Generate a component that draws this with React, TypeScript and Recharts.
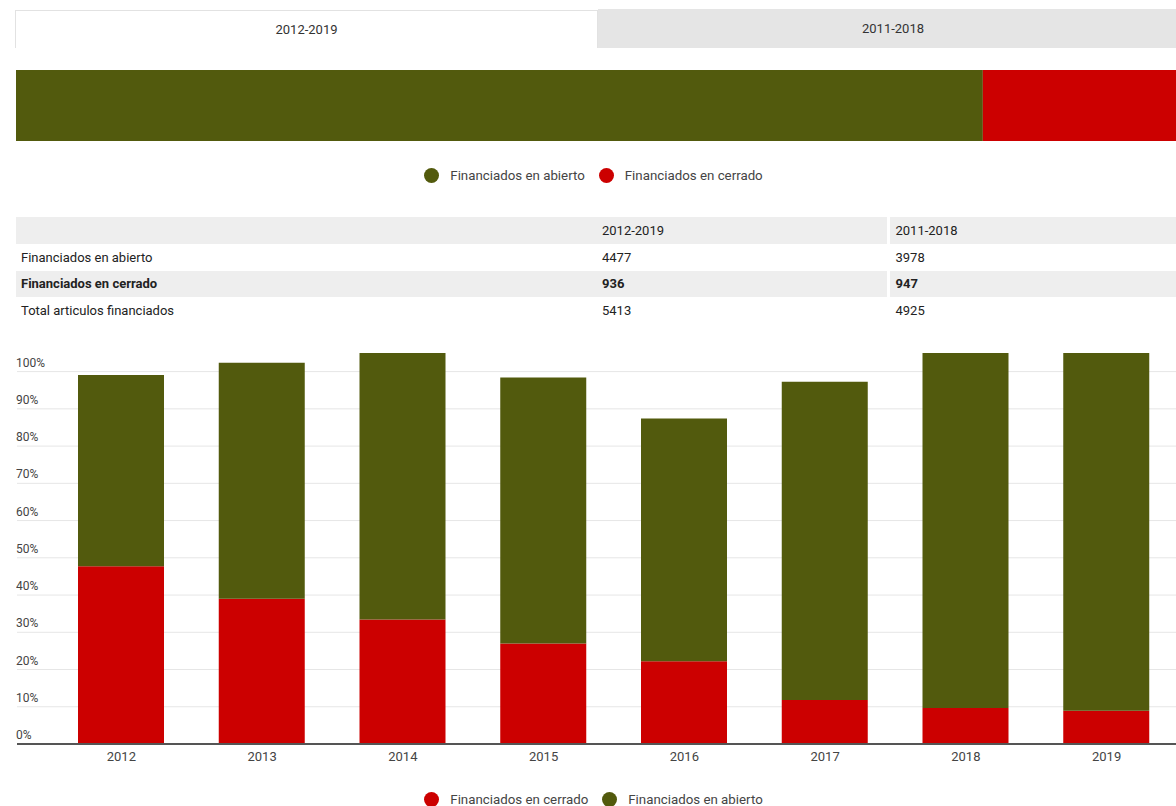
import React from "react";
import { BarChart, Bar, XAxis, YAxis, CartesianGrid } from "recharts";

const GREEN = "#525a0d";
const RED = "#cc0000";

// totales por periodo
const periods = ["2012-2019", "2011-2018"];
const abiertoTotals = [4477, 3978];
const cerradoTotals = [936, 947];
const totalFinanciados = [5413, 4925];
const rowLabels = ["Financiados en abierto", "Financiados en cerrado", "Total articulos financiados"];

// porcentajes anuales
const years = ["2012", "2013", "2014", "2015", "2016", "2017", "2018", "2019"];
const cerradoPct = [47.7, 39.0, 33.4, 27.0, 22.2, 11.8, 9.7, 8.9];
const abiertoPct = [51.4, 63.4, 73, 71.4, 65.2, 85.5, 97, 98];
const yTicks = [0, 10, 20, 30, 40, 50, 60, 70, 80, 90, 100];

const topData = [{ name: periods[0], abierto: abiertoTotals[0], cerrado: cerradoTotals[0] }];
const yearData = years.map((y, i) => ({ year: y, cerrado: cerradoPct[i], abierto: abiertoPct[i] }));
const tableRows = [abiertoTotals, cerradoTotals, totalFinanciados];

function Legend({ items, top }: { items: { label: string; color: string }[]; top: number }) {
    return (
        <div
            style={{
                position: "absolute",
                left: 16,
                top,
                width: 1169,
                height: 16,
                display: "flex",
                justifyContent: "center",
                alignItems: "center",
                fontSize: 13.3,
                color: "#444",
            }}
        >
            {items.map((it) => (
                <div key={it.label} style={{ display: "flex", alignItems: "center", marginRight: 14 }}>
                    <span
                        style={{
                            width: 15,
                            height: 15,
                            borderRadius: "50%",
                            background: it.color,
                            display: "inline-block",
                            marginRight: 11,
                        }}
                    />
                    {it.label}
                </div>
            ))}
        </div>
    );
}

const YTick = (props: any) => {
    const { y, payload } = props;
    return (
        <text x={0} y={y - 5} fill="#444" fontSize={12} textAnchor="start">
            {payload.value}%
        </text>
    );
};

export default function App() {
    const cell = (col: number, row: number) => ({
        borderLeft: col === 2 ? "3px solid #fff" : "none",
        fontWeight: row === 1 ? 700 : 400,
        height: 26.5,
        padding: 0,
        paddingLeft: col === 0 ? 5 : 6,
    });

    return (
        <div
            style={{
                position: "absolute",
                left: 0,
                top: 0,
                width: 1176,
                height: 806,
                overflow: "hidden",
                background: "#fff",
                fontFamily: "Roboto, sans-serif",
            }}
        >
            {/* pestañas */}
            <div
                style={{
                    position: "absolute",
                    left: 15,
                    top: 10,
                    width: 583,
                    height: 38,
                    boxSizing: "border-box",
                    background: "#fff",
                    border: "1px solid #e2e2e2",
                    borderBottom: "none",
                    display: "flex",
                    alignItems: "center",
                    justifyContent: "center",
                    fontSize: 13,
                    color: "#333",
                }}
            >
                {periods[0]}
            </div>
            <div
                style={{
                    position: "absolute",
                    left: 598,
                    top: 9,
                    width: 590,
                    height: 39,
                    background: "#e5e5e5",
                    display: "flex",
                    alignItems: "center",
                    justifyContent: "center",
                    fontSize: 13,
                    color: "#333",
                }}
            >
                {periods[1]}
            </div>

            {/* barra total */}
            <div style={{ position: "absolute", left: 16, top: 70 }}>
                <BarChart
                    width={1169}
                    height={71}
                    data={topData}
                    layout="vertical"
                    margin={{ top: 0, right: 0, bottom: 0, left: 0 }}
                    barCategoryGap={0}
                >
                    <XAxis type="number" hide domain={[0, totalFinanciados[0]]} />
                    <YAxis type="category" dataKey="name" hide />
                    <Bar dataKey="abierto" stackId="t" fill={GREEN} isAnimationActive={false} />
                    <Bar dataKey="cerrado" stackId="t" fill={RED} isAnimationActive={false} />
                </BarChart>
            </div>

            <Legend
                top={167}
                items={[
                    { label: rowLabels[0], color: GREEN },
                    { label: rowLabels[1], color: RED },
                ]}
            />

            {/* tabla */}
            <table
                style={{
                    position: "absolute",
                    left: 16,
                    top: 217,
                    width: 1169,
                    borderCollapse: "collapse",
                    fontSize: 13,
                    color: "#222",
                    tableLayout: "fixed",
                }}
            >
                <colgroup>
                    <col style={{ width: 580 }} />
                    <col style={{ width: 292 }} />
                    <col style={{ width: 297 }} />
                </colgroup>
                <tbody>
                    <tr style={{ background: "#eeeeee", height: 27 }}>
                        <td style={cell(0, -1)}></td>
                        <td style={cell(1, -1)}>{periods[0]}</td>
                        <td style={cell(2, -1)}>{periods[1]}</td>
                    </tr>
                    {tableRows.map((vals, r) => (
                        <tr key={r} style={{ background: r === 1 ? "#eeeeee" : "#fff", height: 26.5 }}>
                            <td style={cell(0, r)}>{rowLabels[r]}</td>
                            <td style={cell(1, r)}>{vals[0]}</td>
                            <td style={cell(2, r)}>{vals[1]}</td>
                        </tr>
                    ))}
                </tbody>
            </table>

            {/* columnas anuales */}
            <div style={{ position: "absolute", left: 16, top: 340 }}>
                <BarChart
                    width={1169}
                    height={466}
                    data={yearData}
                    margin={{ top: 13, right: 0, bottom: 32, left: 0 }}
                >
                    <CartesianGrid vertical={false} stroke="#e6e6e6" syncWithTicks />
                    <XAxis
                        dataKey="year"
                        padding={{ left: 34, right: 8 }}
                        tickLine={false}
                        axisLine={{ stroke: "#555", strokeWidth: 2 }}
                        tick={{ fill: "#444", fontSize: 13 }}
                    />
                    <YAxis
                        width={1}
                        domain={[0, 105]}
                        ticks={yTicks}
                        allowDataOverflow
                        axisLine={false}
                        tickLine={false}
                        interval={0}
                        tick={(p: any) => <YTick {...p} />}
                    />
                    <Bar dataKey="cerrado" stackId="y" fill={RED} barSize={86} isAnimationActive={false} />
                    <Bar dataKey="abierto" stackId="y" fill={GREEN} barSize={86} isAnimationActive={false} />
                </BarChart>
            </div>

            <Legend
                top={791}
                items={[
                    { label: rowLabels[1], color: RED },
                    { label: rowLabels[0], color: GREEN },
                ]}
            />
        </div>
    );
}
